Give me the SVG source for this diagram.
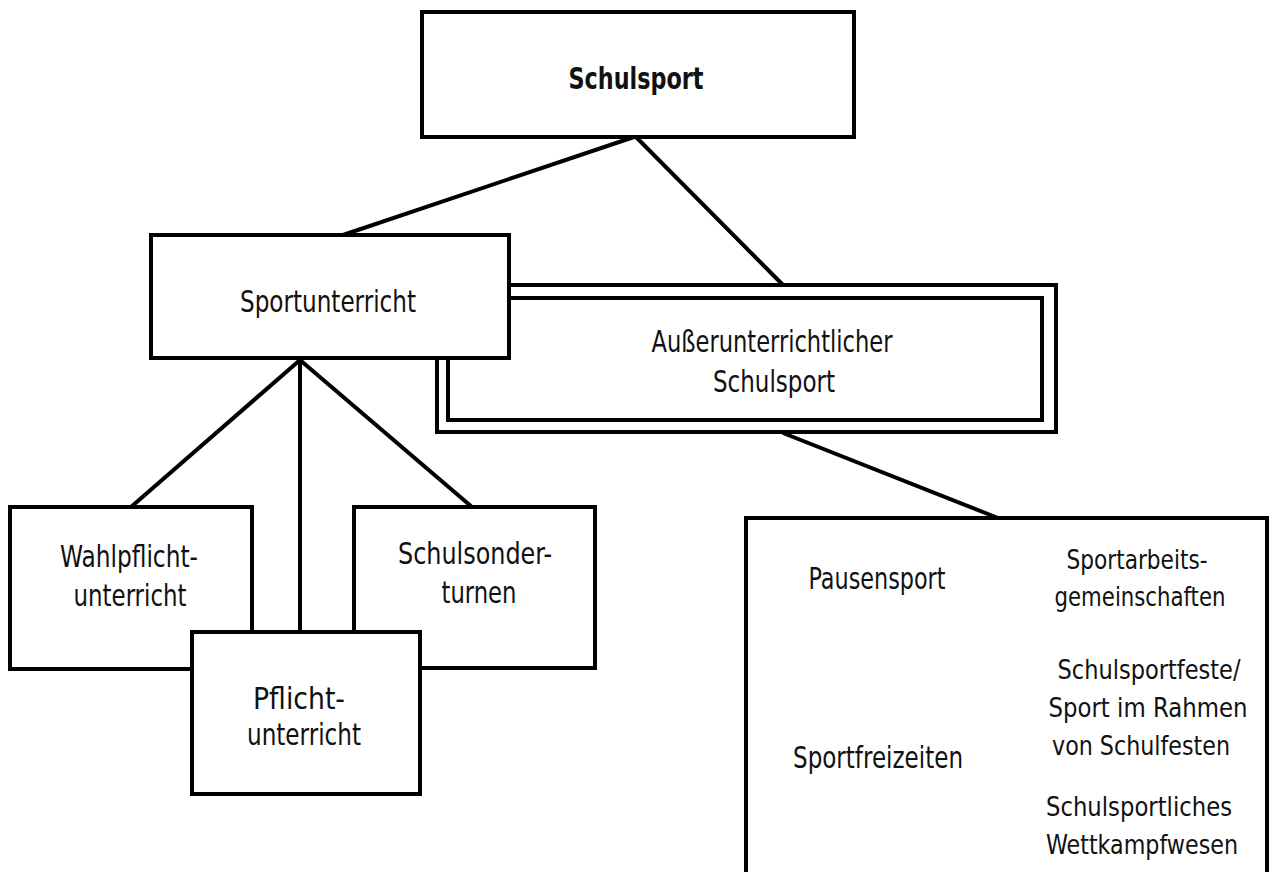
<svg xmlns="http://www.w3.org/2000/svg" width="1272" height="872" viewBox="0 0 1272 872">
<style>
.box{fill:#fff;stroke:#000;stroke-width:4}
.ln{stroke:#000;stroke-width:4;fill:none}
text{font-family:"DejaVu Sans Condensed","Liberation Sans",sans-serif;font-size:31px;fill:#111;text-anchor:middle}
.b{font-weight:bold}
.s{font-size:27px}
</style>
<rect width="1272" height="872" fill="#fff"/>
<g id="connectors">
<line class="ln" x1="634" y1="137" x2="343" y2="235"/>
<line class="ln" x1="636" y1="137" x2="783" y2="285"/>
<line class="ln" x1="300" y1="360" x2="131" y2="507"/>
<line class="ln" x1="300" y1="360" x2="300" y2="632"/>
<line class="ln" x1="300" y1="360" x2="472" y2="507"/>
<line class="ln" x1="783" y1="433" x2="998" y2="518"/>
</g>
<g id="ausser">
<rect class="box" x="437" y="285" width="619" height="147"/>
<rect class="box" x="448" y="298" width="594" height="122"/>
<text x="772" y="352" textLength="241" lengthAdjust="spacingAndGlyphs">Außerunterrichtlicher</text>
<text x="774" y="392" textLength="122" lengthAdjust="spacingAndGlyphs">Schulsport</text>
</g>
<g id="schulsport">
<rect class="box" x="422" y="12" width="432" height="125"/>
<text class="b" x="636" y="89" textLength="135" lengthAdjust="spacingAndGlyphs">Schulsport</text>
</g>
<g id="sportunterricht">
<rect class="box" x="151" y="235" width="358" height="123"/>
<text x="328" y="312" textLength="176" lengthAdjust="spacingAndGlyphs">Sportunterricht</text>
</g>
<g id="wahlpflicht">
<rect class="box" x="10" y="507" width="242" height="162"/>
<text x="129" y="567" textLength="138" lengthAdjust="spacingAndGlyphs">Wahlpflicht-</text>
<text x="130" y="606" textLength="113" lengthAdjust="spacingAndGlyphs">unterricht</text>
</g>
<g id="schulsonderturnen">
<rect class="box" x="354" y="507" width="241" height="161"/>
<text x="475" y="564" textLength="154" lengthAdjust="spacingAndGlyphs">Schulsonder-</text>
<text x="479" y="603" textLength="75" lengthAdjust="spacingAndGlyphs">turnen</text>
</g>
<g id="pflicht">
<rect class="box" x="192" y="632" width="228" height="162"/>
<text x="299" y="709" textLength="92" lengthAdjust="spacingAndGlyphs">Pflicht-</text>
<text x="304" y="745" textLength="114" lengthAdjust="spacingAndGlyphs">unterricht</text>
</g>
<g id="formen">
<path class="box" d="M746 872 V518 H1267 V872"/>
<text x="877" y="589" textLength="137" lengthAdjust="spacingAndGlyphs">Pausensport</text>
<text class="s" x="1137" y="569" textLength="141" lengthAdjust="spacingAndGlyphs">Sportarbeits-</text>
<text class="s" x="1140" y="606" textLength="171" lengthAdjust="spacingAndGlyphs">gemeinschaften</text>
<text class="s" x="1149" y="679" textLength="183" lengthAdjust="spacingAndGlyphs">Schulsportfeste/</text>
<text class="s" x="1148" y="717" textLength="199" lengthAdjust="spacingAndGlyphs">Sport im Rahmen</text>
<text class="s" x="1141" y="755" textLength="178" lengthAdjust="spacingAndGlyphs">von Schulfesten</text>
<text x="878" y="768" textLength="170" lengthAdjust="spacingAndGlyphs">Sportfreizeiten</text>
<text class="s" x="1139" y="816" textLength="186" lengthAdjust="spacingAndGlyphs">Schulsportliches</text>
<text class="s" x="1142" y="854" textLength="192" lengthAdjust="spacingAndGlyphs">Wettkampfwesen</text>
</g>
</svg>
